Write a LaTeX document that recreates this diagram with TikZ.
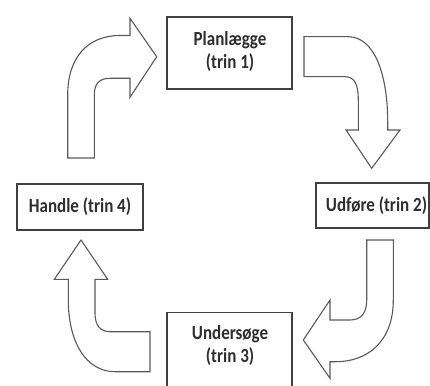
\documentclass[tikz,border=0pt]{standalone}
\usepackage{fontspec}
\usepackage{graphicx}
\setmainfont{Carlito}
\newcommand{\narrowtxt}[1]{\scalebox{0.85}[1]{#1}}
\begin{document}
\begin{tikzpicture}[x=1pt,y=-1pt,
  box/.style={draw=black!75, line width=1.3pt, fill=white, inner sep=0pt},
  lbl/.style={font=\bfseries\fontsize{20}{23}\selectfont, text=black!82, inner sep=0pt},
  blockarrow/.style={draw=black!65, line width=1.1pt, fill=white, line join=miter}]
\useasboundingbox (0,0) rectangle (430,385);
\clip (0,0) rectangle (430,385);
% boxes
\node[box, minimum width=125pt, minimum height=72pt] (n1) at (229.5,53) {};
\node[lbl] (t1) at (230,52) {\narrowtxt{\begin{tabular}{@{}c@{}}Planlægge\\(trin 1)\end{tabular}}};
\node[box, minimum width=113pt, minimum height=45pt] (n2) at (372.5,205.5) {};
\node[lbl] (t2) at (376.5,206) {\narrowtxt{Udføre (trin 2)}};
\node[box, minimum width=125pt, minimum height=90pt, anchor=north] (n3) at (229.5,312) {};
\node[lbl] (t3) at (230,346) {\narrowtxt{\begin{tabular}{@{}c@{}}Undersøge\\(trin 3)\end{tabular}}};
\node[box, minimum width=126pt, minimum height=46pt] (n4) at (80,207) {};
\node[lbl] (t4) at (80,207) {\narrowtxt{Handle (trin 4)}};
% block arrow 4 -> 1
\draw[blockarrow] (67.7,158) -- (67.7,95) .. controls (67.7,57) and (88,35.5) .. (120,35.5)
  -- (130,35.5) -- (130,18.3) -- (156.7,56.7) -- (130,97.3) -- (130,78.3) -- (110,78.3)
  .. controls (99,78.3) and (94.3,84) .. (94.3,95) -- (94.3,158) -- cycle;
% block arrow 1 -> 2
\draw[blockarrow] (304,36.7) -- (348,36.7) .. controls (376,36.7) and (387.7,78) .. (387.7,122)
  -- (387.7,130) -- (400,130) -- (371.7,168.3) -- (346,130) -- (358.3,130) -- (358.3,100)
  .. controls (358.3,85) and (355,76.7) .. (345,76.7) -- (304,76.7) -- cycle;
% block arrow 2 -> 3
\draw[blockarrow] (366.7,240) -- (393.3,240) -- (393.3,300)
  .. controls (393.3,343) and (366,361.7) .. (336,361.7) -- (330,361.7) -- (330,378.3)
  -- (303.3,340) -- (330,300) -- (330,320) -- (350,320)
  .. controls (362,320) and (366.7,312) .. (366.7,300) -- cycle;
% block arrow 3 -> 4
\draw[blockarrow] (81,240) -- (107.7,279.3) -- (95,279.3) -- (95,313)
  .. controls (95,325) and (100,331.7) .. (110,331.7) -- (150,331.7) -- (150,371.7)
  -- (115,371.7) .. controls (86,371.7) and (68.3,342) .. (68.3,300) -- (68.3,279.3)
  -- (54.3,279.3) -- cycle;
\end{tikzpicture}
\end{document}
